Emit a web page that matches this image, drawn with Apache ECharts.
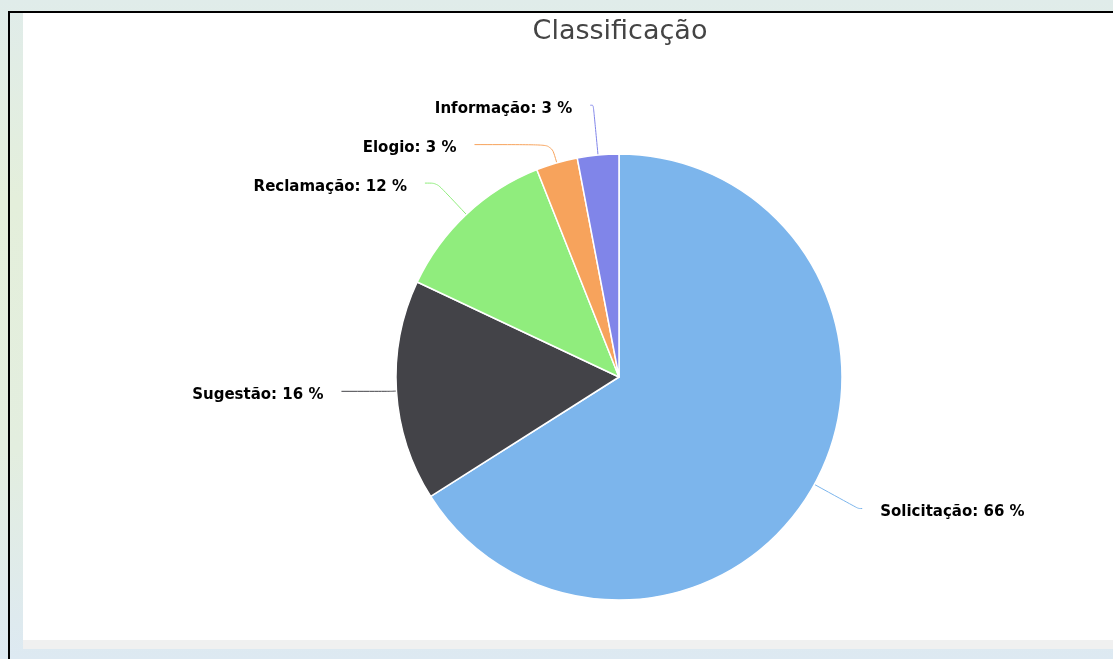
<!DOCTYPE html>
<html>
<head>
<meta charset="utf-8">
<script src="https://cdn.jsdelivr.net/npm/echarts@6/dist/echarts.min.js"></script>
<style>
  html, body { margin: 0; padding: 0; width: 1113px; height: 659px; overflow: hidden; }
  body { background: linear-gradient(to bottom, #e0ecea 0px, #e4efdb 200px, #e3eedf 450px, #dde9f2 659px); position: relative; }
  #frame { position: absolute; left: 8px; top: 11px; right: 0; bottom: 0; border-left: 2px solid #000; border-top: 2px solid #000; }
  #panel { position: absolute; left: 23px; top: 13px; width: 1090px; height: 627px; background: #fff; }
  #strip { position: absolute; left: 23px; top: 640px; width: 1090px; height: 9px; background: #f0f0f0; }
  #chart { position: absolute; left: 23px; top: 13px; width: 1090px; height: 627px; }
</style>
</head>
<body>
<div id="frame"></div>
<div id="panel"></div>
<div id="strip"></div>
<div id="chart"></div>
<script>
const titleText = 'Classificação';
const categories = ['Solicitação', 'Sugestão', 'Reclamação', 'Elogio', 'Informação'];
const values = [66, 16, 12, 3, 3];
const colors = ['#7cb5ec', '#434348', '#90ed7d', '#f7a35c', '#8085e9'];
const lineLength = [50, 5, 43, 19, 50];
const lineLength2 = [4, 50, 12, 77, 3];

const chart = echarts.init(document.getElementById('chart'), null, { renderer: 'canvas' });
const total = values.reduce((a, b) => a + b, 0);
chart.setOption({
  animation: false,
  title: {
    text: titleText,
    left: 592,
    top: 0,
    textAlign: 'center',
    textStyle: { fontFamily: 'DejaVu Sans', fontSize: 27, fontWeight: 'normal', color: '#444' }
  },
  series: [{
    type: 'pie',
    center: [596, 364],
    radius: [0, 223],
    startAngle: 90,
    clockwise: true,
    avoidLabelOverlap: false,
    emphasis: { disabled: true },
    itemStyle: { borderColor: '#fff', borderWidth: 1.5 },
    label: {
      show: true,
      position: 'outside',
      distanceToLabelLine: 18,
      color: '#000',
      fontFamily: 'DejaVu Sans',
      fontWeight: 'bold',
      fontSize: 15,
      textBorderColor: 'rgba(255,255,255,0.8)',
      textBorderWidth: 1,
      formatter: p => '{s| }\n{t|' + p.name + ': ' + Math.round(p.value / total * 100) + ' %}',
      rich: {
        s: { fontSize: 1, lineHeight: 8 },
        t: { fontFamily: 'DejaVu Sans', fontWeight: 'bold', fontSize: 15, lineHeight: 18, color: '#000' }
      }
    },
    labelLine: { show: true, smooth: 0.3, lineStyle: { width: 1 } },
    data: categories.map((c, i) => ({
      name: c,
      value: values[i],
      itemStyle: { color: colors[i] },
      labelLine: { length: lineLength[i], length2: lineLength2[i] }
    }))
  }]
});
</script>
</body>
</html>
